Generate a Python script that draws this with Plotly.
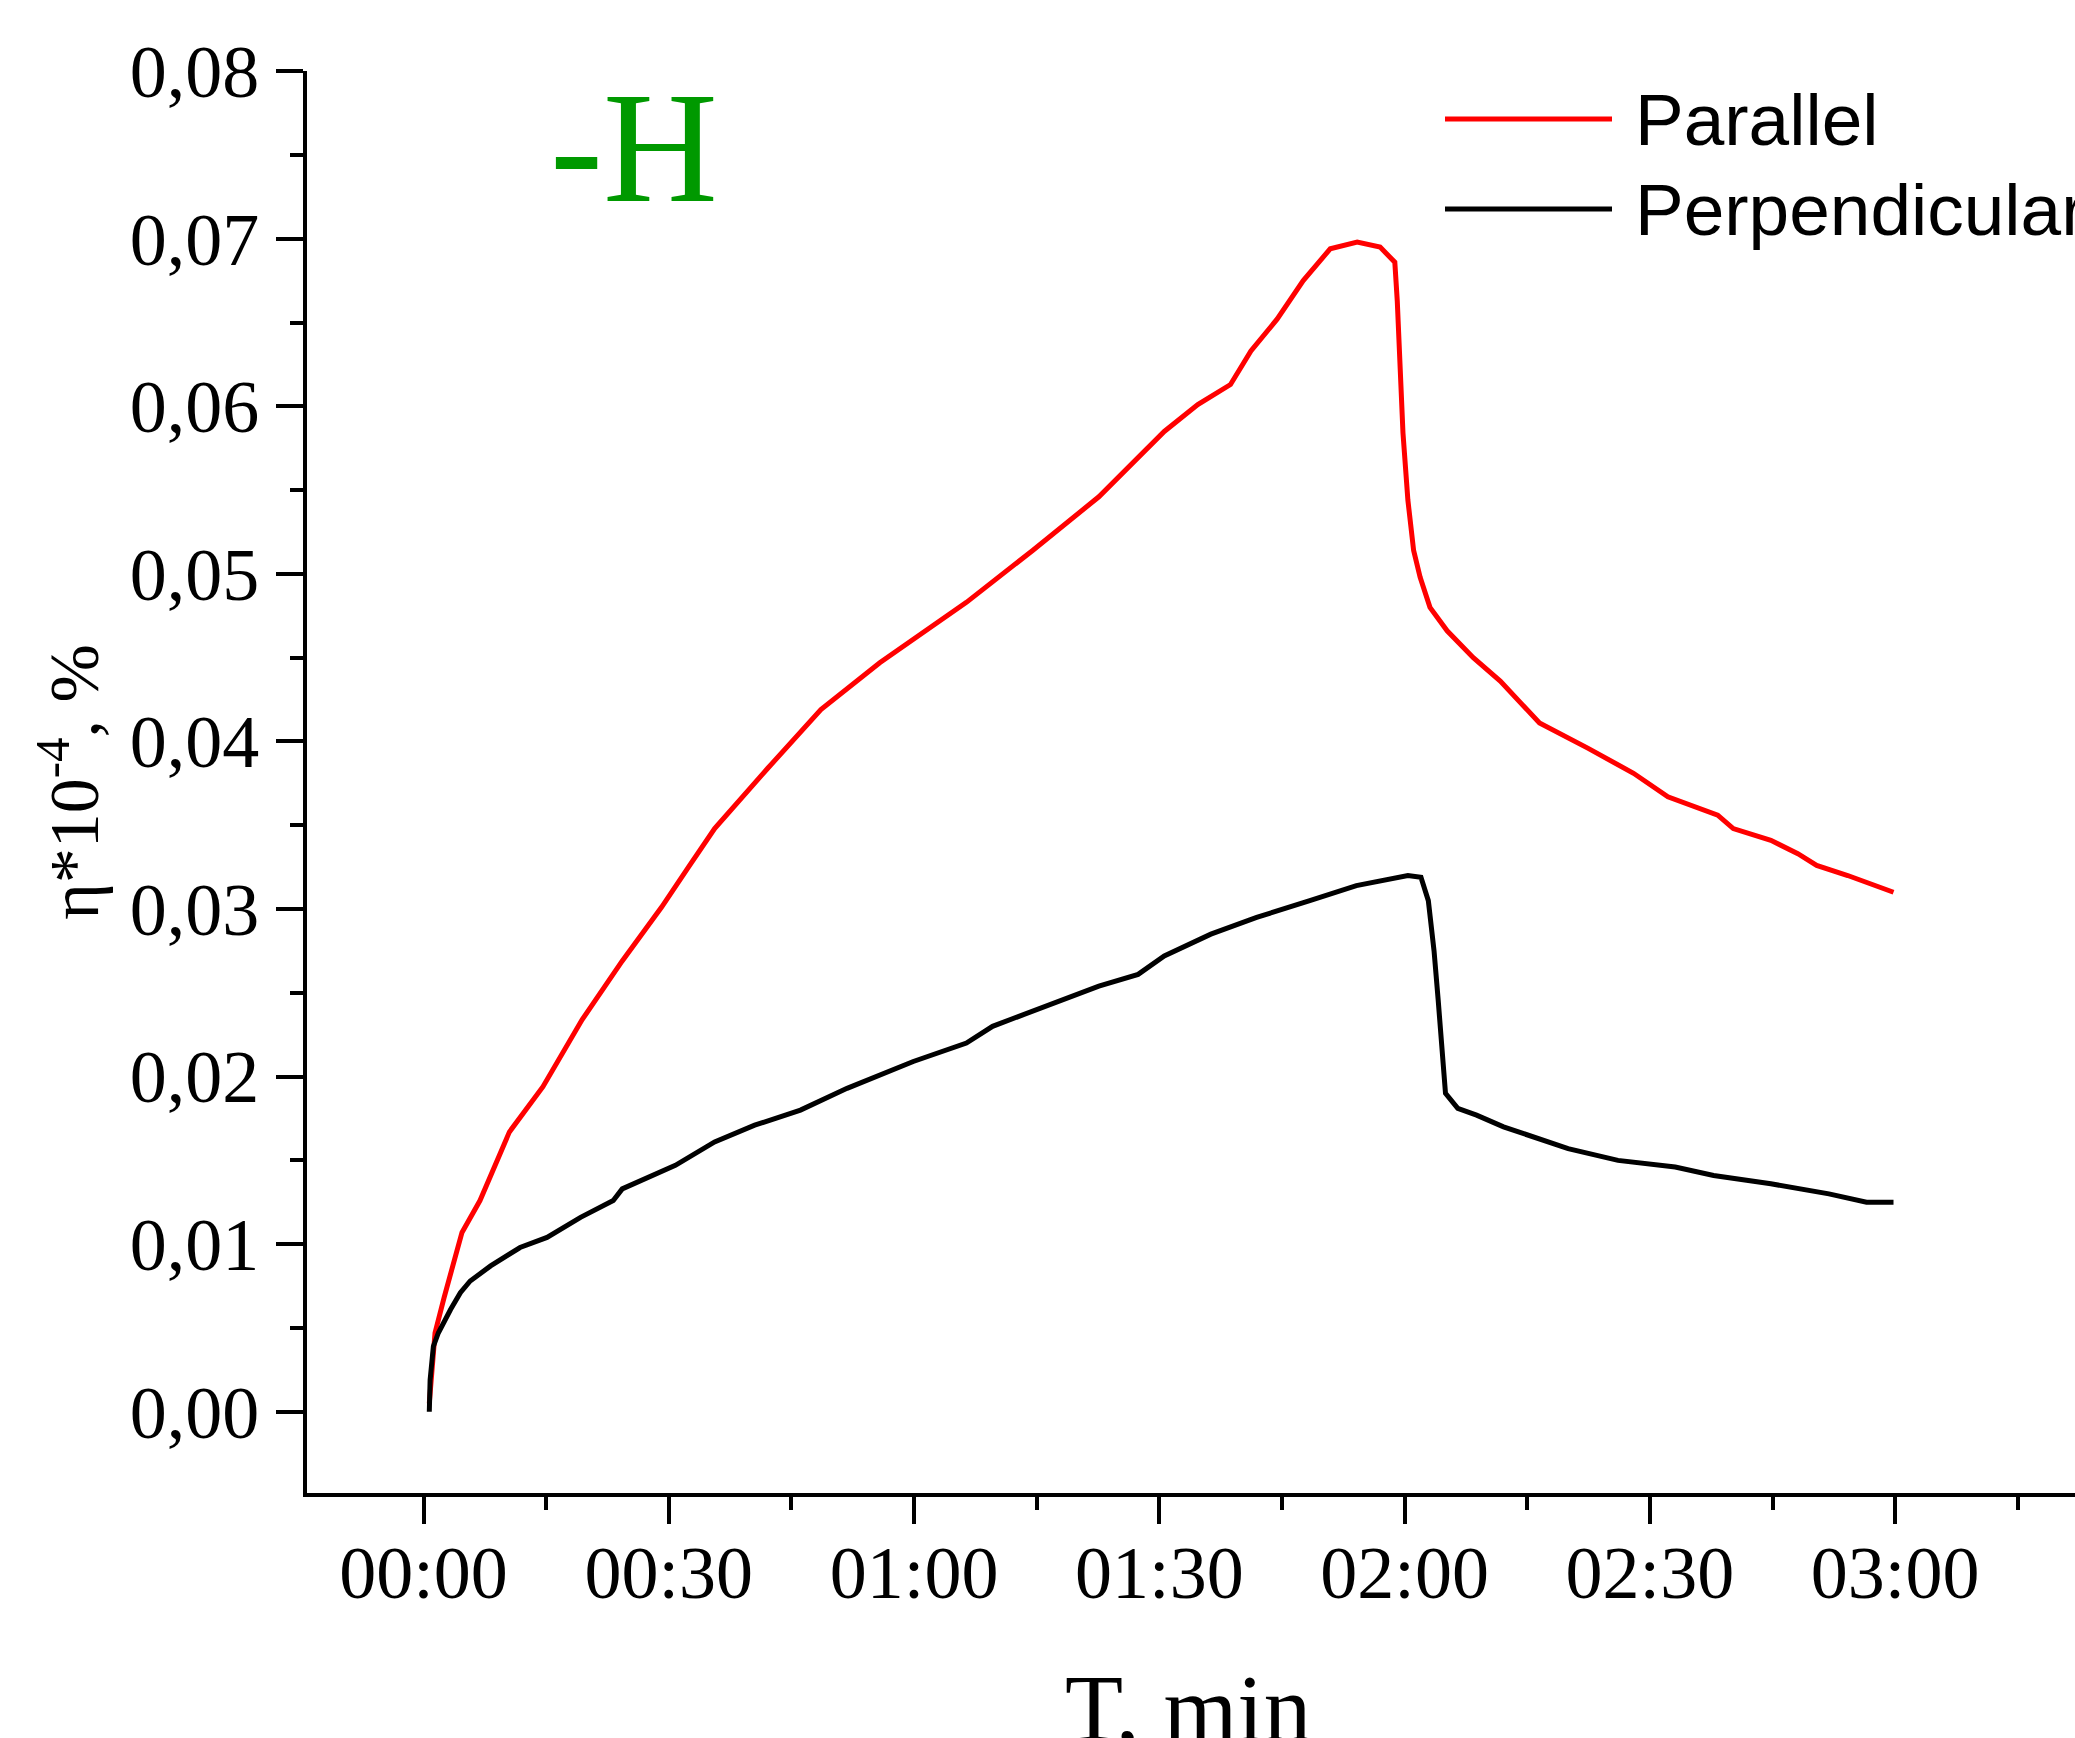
import plotly.graph_objects as go

# ---- data (time in seconds, values in units of the y axis) ----
par_t = [0.7, 1.0, 1.4, 2.5, 3.5, 4.7, 6.9, 10.5, 14.6, 19.4, 24.3, 29.1, 32.4,
         35.6, 42.1, 48.6, 55.8, 59.9, 66.4, 74.5, 82.6, 90.6, 94.7, 98.7,
         101.2, 104.4, 107.6, 110.9, 114.2, 117.0, 118.8, 119.1, 119.4, 119.8,
         120.4, 121.1, 121.9, 123.1, 125.2, 128.4, 131.7, 134.1, 136.5, 142.4,
         148.0, 152.2, 158.3, 160.2, 164.8, 168.1, 170.4, 174.2, 179.8]
par_v = [0.0005, 0.0025, 0.0047, 0.0068, 0.0087, 0.0107, 0.0126, 0.0167, 0.0194,
         0.0234, 0.0269, 0.0301, 0.0325, 0.0348, 0.0384, 0.0419, 0.0447, 0.0461,
         0.0483, 0.0514, 0.0546, 0.0585, 0.0601, 0.0613, 0.0633, 0.0652, 0.0675,
         0.0694, 0.0698, 0.0695, 0.0686, 0.0663, 0.0624, 0.0584, 0.0544, 0.0514,
         0.0498, 0.0480, 0.0466, 0.0450, 0.0436, 0.0423, 0.0411, 0.0396, 0.0381,
         0.0367, 0.0356, 0.0348, 0.0341, 0.0333, 0.0326, 0.0320, 0.0310]

perp_t = [0.7, 0.8, 1.2, 1.8, 3.3, 4.5, 5.7, 8.2, 11.8, 15.1, 19.2, 23.2, 24.3,
          30.8, 35.6, 40.5, 46.1, 51.8, 59.9, 66.4, 69.6, 76.1, 82.6, 87.4,
          90.6, 96.3, 101.9, 108.4, 114.1, 120.4, 122.0, 122.9, 123.6, 124.1,
          124.6, 125.0, 126.5, 128.8, 132.1, 134.4, 140.0, 146.1, 153.1, 157.8,
          164.8, 171.9, 176.5, 179.8]
perp_v = [0.0000, 0.0019, 0.0039, 0.0047, 0.0061, 0.0071, 0.0078, 0.0087, 0.0098,
          0.0104, 0.0116, 0.0126, 0.0133, 0.0147, 0.0161, 0.0171, 0.0180, 0.0193,
          0.0209, 0.0220, 0.0230, 0.0242, 0.0254, 0.0261, 0.0272, 0.0285, 0.0295,
          0.0305, 0.0314, 0.0320, 0.0319, 0.0305, 0.0275, 0.0246, 0.0216, 0.0190,
          0.0181, 0.0177, 0.0170, 0.0166, 0.0157, 0.0150, 0.0146, 0.0141, 0.0136,
          0.0130, 0.0125, 0.0125]

x_tick_vals = [0, 30, 60, 90, 120, 150, 180]
x_tick_text = ["00:00", "00:30", "01:00", "01:30", "02:00", "02:30", "03:00"]

series_names = ["Parallel", "Perpendicular"]
series_colors = ["#ff0000", "#000000"]

x_title = "T, min"
y_title = "η*10<sup>-4</sup>, %"
panel_label = "-H"

# ---- layout geometry (pixels) ----
W, H = 2075, 1738
L, R, T, B = 307, 0, 71, 245
plot_w = W - L - R
plot_h = H - T - B


def px_x(px):
    return (px - L) / plot_w


def px_y(py):
    return (H - B - py) / plot_h


serif = "Liberation Serif, Times New Roman, serif"
sans = "Liberation Sans, Arial, sans-serif"

fig = go.Figure()
fig.add_trace(go.Scatter(x=par_t, y=par_v, mode="lines", name=series_names[0],
                         line=dict(color=series_colors[0], width=5), showlegend=False))
fig.add_trace(go.Scatter(x=perp_t, y=perp_v, mode="lines", name=series_names[1],
                         line=dict(color=series_colors[1], width=5), showlegend=False))

axis_common = dict(showline=True, linecolor="black", linewidth=4, showgrid=False,
                   zeroline=False, ticks="outside", tickcolor="black", tickwidth=4,
                   ticklen=27, automargin=False,
                   tickfont=dict(family=serif, size=74, color="black"))

fig.update_xaxes(**axis_common, range=[-14.26, 202.0], tickmode="array",
                 tickvals=x_tick_vals, ticktext=x_tick_text, ticklabelstandoff=-15,
                 minor=dict(tickmode="linear", tick0=0, dtick=15, ticks="outside",
                            ticklen=13, tickwidth=4, tickcolor="black"))
fig.update_yaxes(**axis_common, range=[-0.00485, 0.08001], tickmode="linear", tick0=0,
                 dtick=0.01, tickformat=".2f", ticklabelstandoff=2,
                 minor=dict(tickmode="linear", tick0=0, dtick=0.005, ticks="outside",
                            ticklen=13, tickwidth=4, tickcolor="black"),
                 title=dict(text=y_title,
                            font=dict(family=serif, size=70, color="black"), standoff=9))

# manual legend with long line keys
legend_rows = [119, 209]
shapes = []
annotations = []
for name, color, row in zip(series_names, series_colors, legend_rows):
    shapes.append(dict(type="line", xref="paper", yref="paper",
                       x0=px_x(1445), x1=px_x(1612), y0=px_y(row), y1=px_y(row),
                       line=dict(color=color, width=5)))
    annotations.append(dict(xref="paper", yref="paper", x=px_x(1633), y=px_y(row),
                            xanchor="left", yanchor="middle", text=name, showarrow=False,
                            font=dict(family=sans, size=73, color="black")))

# panel label
annotations.append(dict(xref="paper", yref="paper", x=px_x(548), y=px_y(147),
                        xanchor="left", yanchor="middle", text=panel_label, showarrow=False,
                        font=dict(family=serif, size=159, color="#009900")))

# x-axis title (placed lower than the margin allows for an axis title)
annotations.append(dict(xref="paper", yref="paper", x=px_x(1188), y=px_y(1709),
                        xanchor="center", yanchor="middle", text=x_title, showarrow=False,
                        font=dict(family=serif, size=95, color="black")))

fig.update_layout(width=W, height=H, margin=dict(l=L, r=R, t=T, b=B, pad=0),
                  paper_bgcolor="white", plot_bgcolor="white", separators=",.",
                  shapes=shapes, annotations=annotations, showlegend=False)

fig.write_html("out.html")
